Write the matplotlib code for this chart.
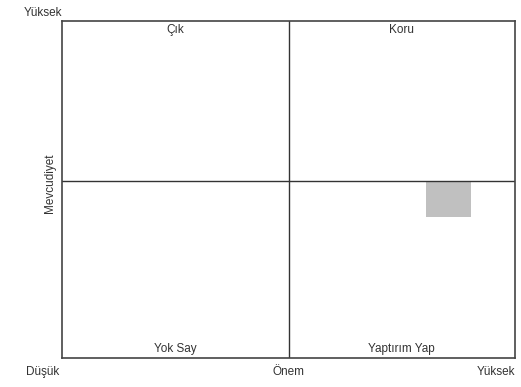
#!/usr/bin/env python3
# -*- coding: utf-8 -*-

import matplotlib.pyplot as plt
from matplotlib.patches import Rectangle

plt.rcParams["font.family"] = ["Liberation Sans", "DejaVu Sans"]

# =========================================================
# DATA
# =========================================================
quadrant_labels = ["Çık", "Koru", "Yok Say", "Yaptırım Yap"]
quadrant_x = [0.25, 0.75, 0.25, 0.75]
quadrant_y = [0.99, 0.99, 0.008, 0.008]
quadrant_va = ["top", "top", "bottom", "bottom"]

x_mid = 0.5
y_mid = 0.525

# highlighted cell (x0, y0, width, height)
cell_x = [0.804]
cell_y = [0.418]
cell_w = [0.099]
cell_h = [0.107]

x_tick_labels = ["Düşük", "Önem", "Yüksek"]
y_top_label = "Yüksek"
y_label = "Mevcudiyet"

# =========================================================
# PLOT
# =========================================================
fig = plt.figure(figsize=(5.21, 3.87), dpi=100)
ax = fig.add_axes([62 / 521, 29 / 387, 453 / 521, 337 / 387])
ax.set_xlim(0, 1)
ax.set_ylim(0, 1)
ax.set_xticks([])
ax.set_yticks([])
for sp in ax.spines.values():
    sp.set_color("#444444")
    sp.set_linewidth(1.2)

ax.axvline(x_mid, color="#333333", lw=1.0)
ax.axhline(y_mid, color="#333333", lw=1.0)

for x0, y0, w, h in zip(cell_x, cell_y, cell_w, cell_h):
    ax.add_patch(Rectangle((x0, y0), w, h, facecolor="#c0c0c0", edgecolor="none", zorder=1))

for lab, x, y, va in zip(quadrant_labels, quadrant_x, quadrant_y, quadrant_va):
    ax.text(x, y, lab, ha="center", va=va, fontsize=8.5, color="#333333")

# axis end labels
ax.text(-0.005, -0.025, x_tick_labels[0], ha="right", va="top", fontsize=8.5, color="#333333")
ax.text(0.5, -0.025, x_tick_labels[1], ha="center", va="top", fontsize=8.5, color="#333333")
ax.text(1.0, -0.025, x_tick_labels[2], ha="right", va="top", fontsize=8.5, color="#333333")
ax.text(0.0, 1.006, y_top_label, ha="right", va="bottom", fontsize=8.5, color="#333333")
ax.text(-0.027, 0.52, y_label, ha="center", va="center", rotation=90, fontsize=8.5, color="#333333")

fig.savefig("out.png", dpi=100)
